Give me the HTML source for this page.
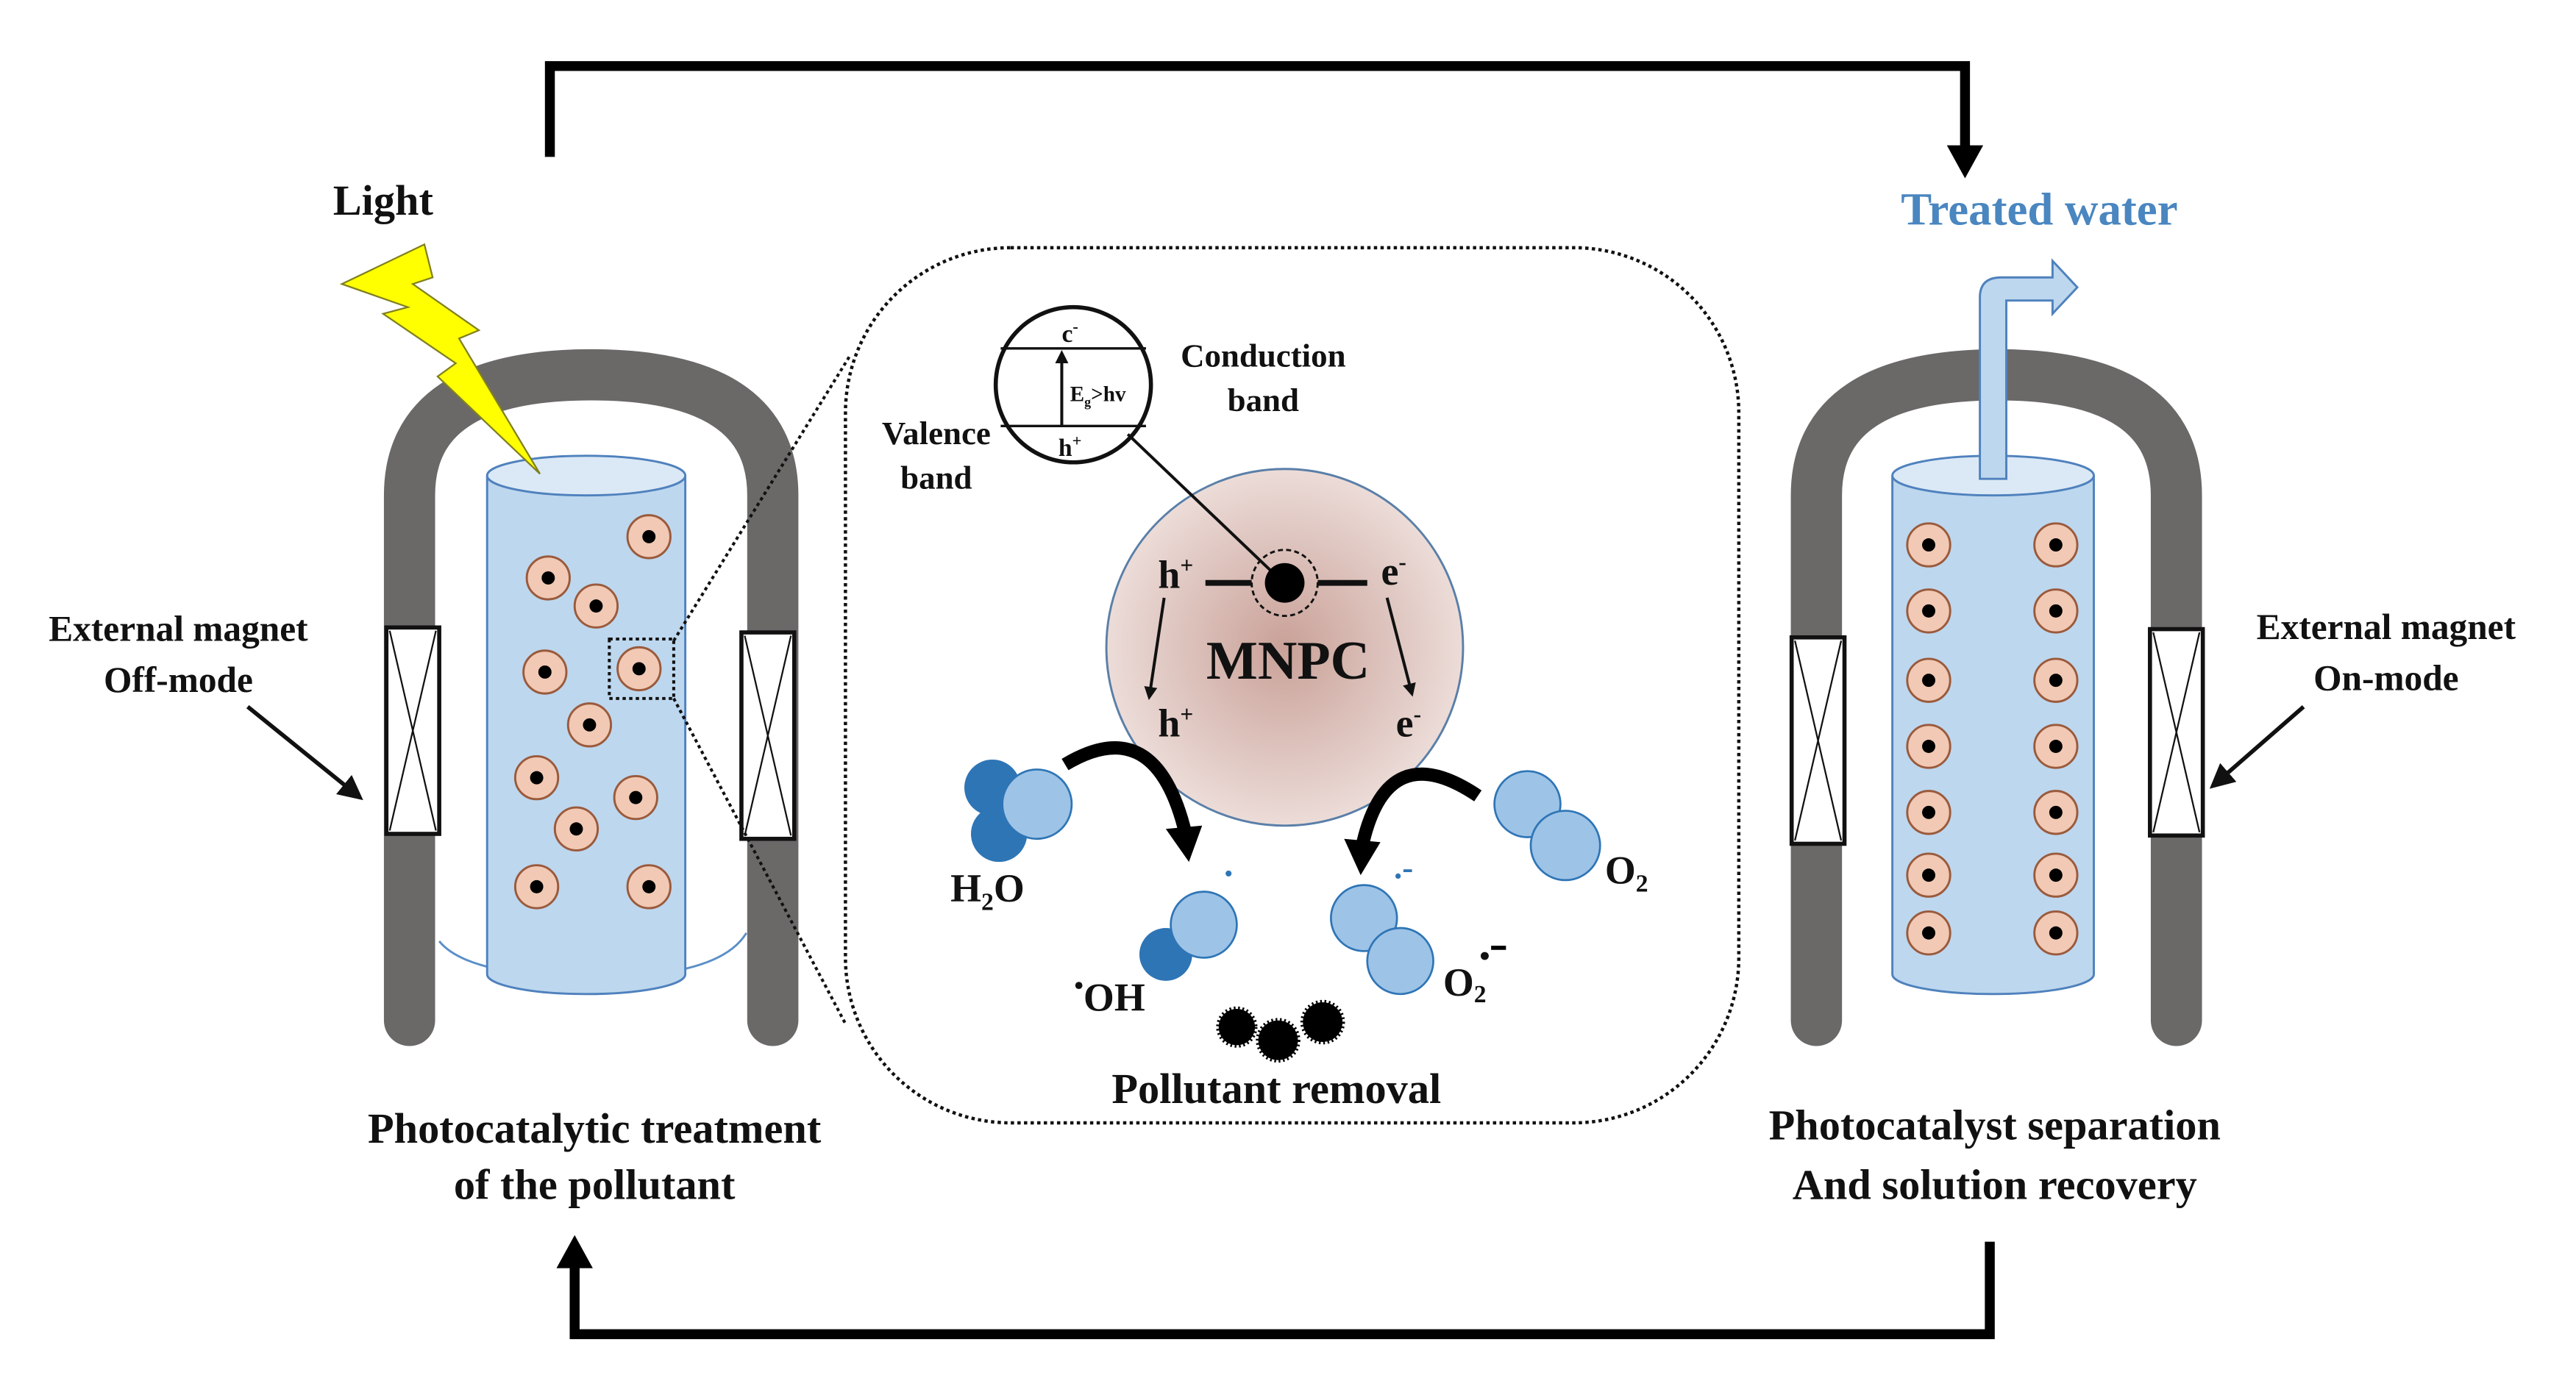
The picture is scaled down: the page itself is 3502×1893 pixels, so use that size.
<!DOCTYPE html>
<html><head><meta charset="utf-8"><style>html,body{margin:0;padding:0;background:#fff}svg{display:block}text{font-family:"Liberation Serif",serif;font-weight:bold;fill:#111}</style></head>
<body>
<svg width="3502" height="1893" viewBox="0 0 1560 843" preserveAspectRatio="none" xmlns="http://www.w3.org/2000/svg">
<defs>
<radialGradient id="mg" cx="50%" cy="50%" r="50%"><stop offset="0" stop-color="#c9a198"/><stop offset="1" stop-color="#ecdcd8"/></radialGradient>
<marker id="ah" markerWidth="6" markerHeight="6" refX="5" refY="3" orient="auto" markerUnits="strokeWidth"><path d="M0,0 L6,3 L0,6 z" fill="#111"/></marker>
<marker id="ahs" markerWidth="8" markerHeight="8" refX="6" refY="4" orient="auto" markerUnits="userSpaceOnUse"><path d="M0,0 L8,4 L0,8 z" fill="#111"/></marker>
<g id="p"><circle r="13" fill="#f1c9b4" stroke="#9a5a3c" stroke-width="1.3"/><circle r="4" fill="#000"/></g>
<g id="coil"><rect x="0" y="0" width="32" height="125" fill="#fff" stroke="#111" stroke-width="2.5"/><path d="M2,2 L30,123 M30,2 L2,123" stroke="#111" stroke-width="1"/></g>
</defs>

<!-- loops -->
<path d="M333,95 V40 H1190 V92" fill="none" stroke="#000" stroke-width="6"/>
<path d="M1179,88 L1201,88 L1190,108 z" fill="#000"/>
<path d="M1205,752 V808 H348 V765" fill="none" stroke="#000" stroke-width="6"/>
<path d="M337,768 L359,768 L348,748 z" fill="#000"/>

<!-- left magnet -->
<path d="M248,618 V300 Q248,227 358,227 Q468,227 468,300 V618" fill="none" stroke="#6b6868" stroke-width="31" stroke-linejoin="round" stroke-linecap="round"/>
<path d="M395,590 Q440,585 452,565 M320,590 Q278,585 266,570" fill="none" stroke="#5b8fc7" stroke-width="1.3"/>
<!-- left cylinder -->
<path d="M295,288 V590 A60,12 0 0 0 415,590 V288" fill="#bdd7ee" stroke="#4f81bd" stroke-width="1.3"/>
<ellipse cx="355" cy="288" rx="60" ry="12" fill="#dbe9f6" stroke="#4f81bd" stroke-width="1.3"/>
<use href="#coil" x="234" y="380"/>
<use href="#coil" x="449" y="383"/>
<use href="#p" x="393" y="325"/><use href="#p" x="332" y="350"/><use href="#p" x="361" y="367"/>
<use href="#p" x="330" y="407"/><use href="#p" x="387" y="405"/><use href="#p" x="357" y="439"/>
<use href="#p" x="325" y="471"/><use href="#p" x="385" y="483"/><use href="#p" x="349" y="502"/>
<use href="#p" x="325" y="537"/><use href="#p" x="393" y="537"/>
<rect x="369" y="387" width="39" height="36" fill="none" stroke="#111" stroke-width="1.8" stroke-dasharray="2,2"/>
<path d="M408,388 L515,215 M408,423 L512,620" stroke="#111" stroke-width="1.8" stroke-dasharray="2,2" fill="none"/>

<!-- lightning -->
<polygon points="207,172 257,148 262,168 250,172 290,200 278,205 327,287 265,228 276,220 232,190 247,186" fill="#ffff00" stroke="#7f7f20" stroke-width="1"/>
<text x="232" y="130" font-size="26" text-anchor="middle">Light</text>

<text x="108" y="388" font-size="22" text-anchor="middle">External magnet</text>
<text x="108" y="419" font-size="22" text-anchor="middle">Off-mode</text>
<line x1="150" y1="428" x2="218" y2="483" stroke="#111" stroke-width="2.5" marker-end="url(#ah)"/>

<text x="360" y="692" font-size="26" text-anchor="middle">Photocatalytic treatment</text>
<text x="360" y="726" font-size="26" text-anchor="middle">of the pollutant</text>

<!-- center panel -->
<rect x="512" y="150" width="541" height="530" rx="100" fill="none" stroke="#111" stroke-width="2" stroke-dasharray="2,2"/>
<circle cx="778" cy="392" r="108" fill="url(#mg)" stroke="#5a7fa8" stroke-width="1.3"/>
<circle cx="650" cy="233" r="47" fill="#fff" stroke="#111" stroke-width="2.5"/>
<line x1="606" y1="211" x2="694" y2="211" stroke="#111" stroke-width="1.5"/>
<line x1="606" y1="258" x2="694" y2="258" stroke="#111" stroke-width="1.5"/>
<line x1="643" y1="258" x2="643" y2="214" stroke="#111" stroke-width="1.8" marker-end="url(#ahs)"/>
<text x="648" y="207" font-size="15" text-anchor="middle">c<tspan font-size="10" dy="-6">-</tspan></text>
<text x="648" y="276" font-size="15" text-anchor="middle">h<tspan font-size="10" dy="-6">+</tspan></text>
<text x="648" y="243" font-size="13">E<tspan font-size="8" dy="3">g</tspan><tspan dy="-3">&gt;hv</tspan></text>
<text x="765" y="222" font-size="20" text-anchor="middle">Conduction</text>
<text x="765" y="249" font-size="20" text-anchor="middle">band</text>
<text x="567" y="269" font-size="20" text-anchor="middle">Valence</text>
<text x="567" y="296" font-size="20" text-anchor="middle">band</text>
<line x1="683" y1="263" x2="770" y2="346" stroke="#111" stroke-width="1.8"/>
<circle cx="778" cy="353" r="20" fill="none" stroke="#111" stroke-width="1.3" stroke-dasharray="3,2"/>
<circle cx="778" cy="353" r="12" fill="#000"/>
<line x1="730" y1="353" x2="758" y2="353" stroke="#111" stroke-width="3.5"/>
<line x1="798" y1="353" x2="828" y2="353" stroke="#111" stroke-width="3.5"/>
<text x="712" y="356" font-size="24" text-anchor="middle">h<tspan font-size="14" dy="-9">+</tspan></text>
<text x="712" y="446" font-size="24" text-anchor="middle">h<tspan font-size="14" dy="-9">+</tspan></text>
<text x="844" y="354" font-size="24" text-anchor="middle">e<tspan font-size="14" dy="-9">-</tspan></text>
<text x="853" y="446" font-size="24" text-anchor="middle">e<tspan font-size="14" dy="-9">-</tspan></text>
<line x1="705" y1="362" x2="696" y2="422" stroke="#111" stroke-width="1.8" marker-end="url(#ahs)"/>
<line x1="840" y1="362" x2="855" y2="420" stroke="#111" stroke-width="1.8" marker-end="url(#ahs)"/>
<text x="780" y="411" font-size="33" text-anchor="middle">MNPC</text>

<!-- H2O -->
<circle cx="601" cy="477" r="17" fill="#2e75b6"/>
<circle cx="605" cy="505" r="17" fill="#2e75b6"/>
<circle cx="628" cy="487" r="21" fill="#9dc3e6" stroke="#2e75b6" stroke-width="1.2"/>
<text x="598" y="546" font-size="24" text-anchor="middle">H<tspan font-size="15" dy="5">2</tspan><tspan dy="-5">O</tspan></text>
<path d="M645,463 Q700,430 718,505" fill="none" stroke="#000" stroke-width="8"/>
<path d="M706,502 L728,500 L720,522 z" fill="#000"/>
<circle cx="744" cy="529" r="1.8" fill="#2e75b6"/>
<circle cx="706" cy="578" r="16" fill="#2e75b6"/>
<circle cx="729" cy="560" r="20" fill="#9dc3e6" stroke="#2e75b6" stroke-width="1.2"/>
<text x="672" y="612" font-size="24" text-anchor="middle"><tspan font-size="16" dy="-10">•</tspan><tspan dy="10">OH</tspan></text>

<!-- O2 -->
<circle cx="925" cy="487" r="20" fill="#9dc3e6" stroke="#2e75b6" stroke-width="1.2"/>
<circle cx="948" cy="512" r="21" fill="#9dc3e6" stroke="#2e75b6" stroke-width="1.2"/>
<text x="985" y="535" font-size="24" text-anchor="middle">O<tspan font-size="15" dy="5">2</tspan></text>
<path d="M895,482 Q840,445 825,512" fill="none" stroke="#000" stroke-width="8"/>
<path d="M814,508 L836,510 L824,530 z" fill="#000"/>
<text x="850" y="532" font-size="20" style="fill:#2e75b6" text-anchor="middle">.-</text>
<circle cx="826" cy="556" r="20" fill="#9dc3e6" stroke="#2e75b6" stroke-width="1.2"/>
<circle cx="848" cy="582" r="20" fill="#9dc3e6" stroke="#2e75b6" stroke-width="1.2"/>
<text x="887" y="603" font-size="24" text-anchor="middle">O<tspan font-size="15" dy="4">2</tspan></text>
<text x="896" y="585" font-size="18">•</text>
<line x1="903" y1="574" x2="912" y2="574" stroke="#000" stroke-width="2.5"/>

<!-- pollutant -->
<circle cx="749" cy="622" r="11" fill="#000" stroke="#000" stroke-width="3" stroke-dasharray="1,1.5"/>
<circle cx="774" cy="630" r="12" fill="#000" stroke="#000" stroke-width="3" stroke-dasharray="1,1.5"/>
<circle cx="801" cy="619" r="12" fill="#000" stroke="#000" stroke-width="3" stroke-dasharray="1,1.5"/>
<text x="773" y="668" font-size="26" text-anchor="middle">Pollutant removal</text>

<!-- right magnet -->
<path d="M1100,618 V300 Q1100,227 1210,227 Q1318,227 1318,300 V618" fill="none" stroke="#6b6868" stroke-width="31" stroke-linejoin="round" stroke-linecap="round"/>
<path d="M1146,288 V590 A61,12 0 0 0 1268,590 V288" fill="#bdd7ee" stroke="#4f81bd" stroke-width="1.3"/>
<ellipse cx="1207" cy="288" rx="61" ry="12" fill="#dbe9f6" stroke="#4f81bd" stroke-width="1.3"/>
<path d="M1199,290 V180 Q1199,168 1212,168 H1243 V158 L1258,174 L1243,190 V182 H1215 V290 z" fill="#bdd7ee" stroke="#4f81bd" stroke-width="1.3"/>
<use href="#coil" x="1085" y="386"/>
<use href="#coil" x="1302" y="381"/>
<use href="#p" x="1168" y="330"/><use href="#p" x="1245" y="330"/>
<use href="#p" x="1168" y="370"/><use href="#p" x="1245" y="370"/>
<use href="#p" x="1168" y="412"/><use href="#p" x="1245" y="412"/>
<use href="#p" x="1168" y="452"/><use href="#p" x="1245" y="452"/>
<use href="#p" x="1168" y="492"/><use href="#p" x="1245" y="492"/>
<use href="#p" x="1168" y="530"/><use href="#p" x="1245" y="530"/>
<use href="#p" x="1168" y="565"/><use href="#p" x="1245" y="565"/>
<text x="1235" y="136" font-size="28" text-anchor="middle" style="fill:#4a86c0">Treated water</text>
<text x="1445" y="387" font-size="22" text-anchor="middle">External magnet</text>
<text x="1445" y="418" font-size="22" text-anchor="middle">On-mode</text>
<line x1="1395" y1="428" x2="1340" y2="476" stroke="#111" stroke-width="2.5" marker-end="url(#ah)"/>
<text x="1208" y="690" font-size="26" text-anchor="middle">Photocatalyst separation</text>
<text x="1208" y="726" font-size="26" text-anchor="middle">And solution recovery</text>
</svg>
</body></html>
